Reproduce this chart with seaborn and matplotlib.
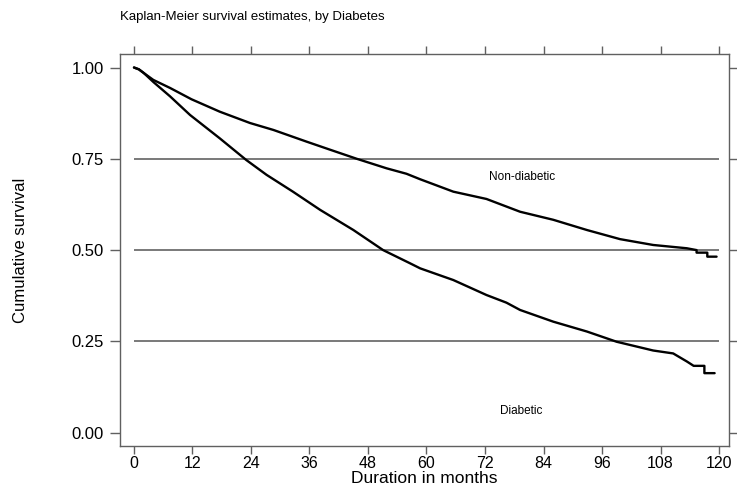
import matplotlib
matplotlib.use("Agg")
import matplotlib.pyplot as plt
import seaborn as sns
import pandas as pd

# Non-diabetic KM estimate (months, survival)
nd_months = [0, 1, 2, 3.97, 7.4, 11.8, 17.6, 23.8, 28.6, 35.4, 40.2, 45.7, 51.8, 55.9, 58.7,
             65.5, 72.3, 79.2, 86.0, 92.9, 99.7, 106.5, 113.4, 115.4, 115.4, 117.6, 117.6, 119.5]
nd_surv = [1.0, 0.995, 0.985, 0.966, 0.944, 0.913, 0.879, 0.848, 0.829, 0.797, 0.775, 0.750, 0.724, 0.709, 0.694,
           0.660, 0.640, 0.605, 0.583, 0.555, 0.530, 0.514, 0.505, 0.500, 0.493, 0.493, 0.482, 0.482]

# Diabetic KM estimate
d_months = [0, 1, 2, 4, 7.4, 11.5, 17.6, 23.0, 27.2, 32.6, 38.2, 45.0, 51.1, 56.6, 58.7,
            65.5, 72.3, 76.4, 79.2, 86.0, 92.9, 99.0, 106.5, 110.6, 113.4, 114.8, 117.0, 117.0, 119.1]
d_surv = [1.0, 0.995, 0.985, 0.960, 0.921, 0.870, 0.806, 0.747, 0.706, 0.660, 0.610, 0.555, 0.500, 0.464, 0.450,
          0.418, 0.377, 0.356, 0.336, 0.304, 0.277, 0.249, 0.225, 0.217, 0.195, 0.183, 0.183, 0.163, 0.163]

x_ticks = [0, 12, 24, 36, 48, 60, 72, 84, 96, 108, 120]
y_ticks = [0.00, 0.25, 0.50, 0.75, 1.00]
grid_y = [0.25, 0.50, 0.75]

df = pd.concat([
    pd.DataFrame({"months": nd_months, "surv": nd_surv, "group": "Non-diabetic"}),
    pd.DataFrame({"months": d_months, "surv": d_surv, "group": "Diabetic"}),
])

sns.set_style("white")
plt.rcParams["font.family"] = ["Liberation Sans", "DejaVu Sans"]
plt.rcParams["text.color"] = "black"
plt.rcParams["axes.labelcolor"] = "black"
plt.rcParams["xtick.color"] = "black"
plt.rcParams["ytick.color"] = "black"

fig = plt.figure(figsize=(7.37, 4.90), dpi=100)
ax = fig.add_axes([120/737, 1-446/490, (729-120)/737, (446-54)/490])

ax.hlines(grid_y, 0, 120, color="#555555", lw=1.1, zorder=1)

sns.lineplot(data=df, x="months", y="surv", hue="group", units="group", estimator=None, sort=False,
             palette={"Non-diabetic": "black", "Diabetic": "black"}, lw=1.7, legend=False, ax=ax, zorder=3)

ax.set_xlim(-2.87, 122.05)
ax.set_ylim(-0.0365, 1.037)
ax.set_xticks(x_ticks)
ax.set_xticklabels([str(t) for t in x_ticks])
ax.set_yticks(y_ticks)
ax.set_yticklabels([f"{t:.2f}" for t in y_ticks])

for s in ax.spines.values():
    s.set_color("#606060")
    s.set_linewidth(1.0)

ax.tick_params(axis="both", which="both", direction="out", width=1, color="#606060",
               labelcolor="black", bottom=True, left=True, top=True, right=True,
               labeltop=False, labelright=False)
ax.tick_params(axis="y", length=7.2, pad=4.5, labelsize=12)
ax.tick_params(axis="x", length=6, pad=1, labelsize=11.5)

ax.set_xlabel("Duration in months", fontsize=12.5, labelpad=0, color="black")
ax.set_ylabel("Cumulative survival", fontsize=12, labelpad=31, color="black")

ax.text(79.5, 0.70, "Non-diabetic", fontsize=8.5, ha="center", va="center", color="black")
ax.text(79.5, 0.058, "Diabetic", fontsize=8.5, ha="center", va="center", color="black")

fig.text(120/737, 1-17/490, "Kaplan-Meier survival estimates, by Diabetes", fontsize=9.5,
         ha="left", va="center", color="black")

fig.savefig("out.png", dpi=100)
